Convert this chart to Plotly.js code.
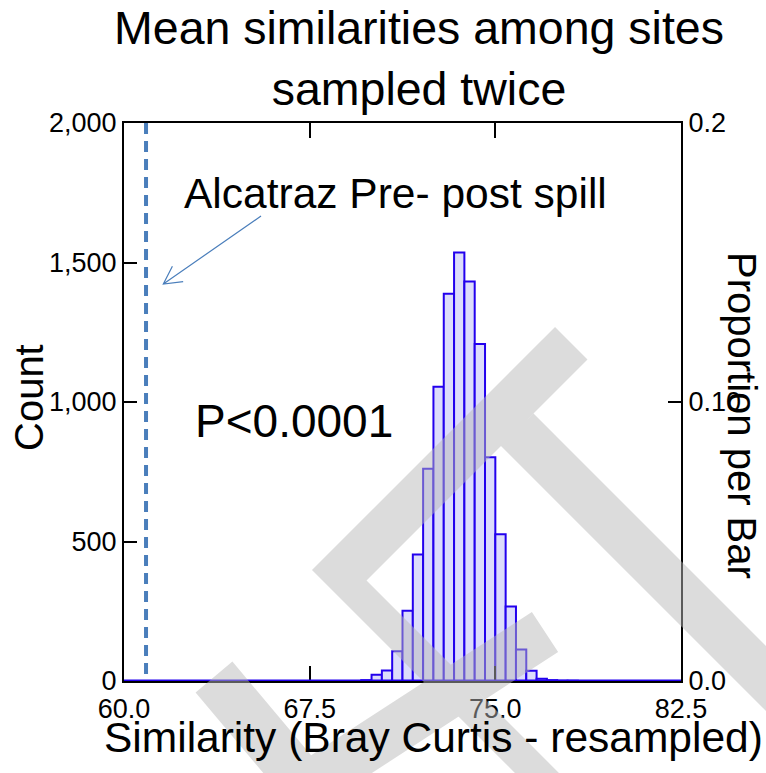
<!DOCTYPE html>
<html>
<head>
<meta charset="utf-8">
<script src="https://cdn.plot.ly/plotly-3.0.1.min.js"></script>
<style>html,body{margin:0;padding:0;background:#fff;}</style>
</head>
<body>
<div id="chart" style="width:766px;height:773px;"></div>
<script>
// ---- data ----
// lower edge of each histogram bin (Bray Curtis similarity, resampled)
const binLower = [69.583, 70.000, 70.417, 70.833, 71.250, 71.667, 72.083, 72.500, 72.917, 73.333,
                  73.750, 74.167, 74.583, 75.000, 75.417, 75.833, 76.250, 76.667, 77.083, 77.500, 77.917];
// count of resamples in each bin
const binCount = [3, 22, 38, 107, 252, 453, 761, 1055, 1388, 1536,
                  1432, 1208, 802, 526, 267, 113, 37, 8, 3, 1, 1];
const binWidth = 0.41667;
// observed similarity (Alcatraz pre- vs post-spill)
const observedSimilarity = [60.89];
// axis ticks
const xTickVals = [60, 67.5, 75, 82.5];
const xTickText = ['60.0', '67.5', '75.0', '82.5'];
const yTickVals = [0, 500, 1000, 1500, 2000];
const y2TickVals = [0, 0.1, 0.2];
const y2TickText = ['0.0', '0.10', '0.2'];
const totalResamples = 10000;

// ---- layout geometry ----
const W = 766, H = 773, ML = 124, MR = 85, MT = 123, MB = 92;
const plotW = W - ML - MR, plotH = H - MT - MB;
const FONT = 'Liberation Sans, Arial, Helvetica, sans-serif';
const pxX = px => (px - ML) / plotW;
const pxY = py => (H - MB - py) / plotH;
const polyPath = polys => polys.map(p => 'M' + p.map(q => pxX(q[0]).toFixed(4) + ',' + pxY(q[1]).toFixed(4)).join('L') + 'Z').join(' ');

// arrow from the label to the observed line (decoration, drawn in pixels)
const arrowTail = [261, 216], arrowTip = [163.3, 284];
function arrowPath() {
  const dx = arrowTail[0] - arrowTip[0], dy = arrowTail[1] - arrowTip[1];
  const len = Math.hypot(dx, dy), ux = dx / len, uy = dy / len;
  const ang = 28 * Math.PI / 180, bl = 20;
  const b1 = [arrowTip[0] + bl * (ux * Math.cos(ang) - uy * Math.sin(ang)), arrowTip[1] + bl * (ux * Math.sin(ang) + uy * Math.cos(ang))];
  const b2 = [arrowTip[0] + bl * (ux * Math.cos(-ang) - uy * Math.sin(-ang)), arrowTip[1] + bl * (ux * Math.sin(-ang) + uy * Math.cos(-ang))];
  const f = q => pxX(q[0]).toFixed(4) + ',' + pxY(q[1]).toFixed(4);
  return 'M' + f(arrowTail) + 'L' + f(arrowTip) + ' M' + f(b1) + 'L' + f(arrowTip) + 'L' + f(b2);
}

// faint grey watermark overlay (decoration), split into non-overlapping pieces
const watermark = [
  [[555, 327], [587.5, 359.5], [366.5, 580.5], [586, 800], [542, 800], [312, 570]],
  [[533.5, 413.5], [800, 680], [800, 745], [501, 446]],
  [[531.9, 611.9], [558.1, 652.1], [485.4, 699.3], [450.7, 664.7]],
  [[424.0, 682.0], [458.7, 716.6], [299.4, 820.1], [273.2, 779.9]],
  [[232.4, 661.6], [311.1, 755.3], [270.5, 781.6], [195.6, 692.4]]
];

const traces = [
  {
    type: 'bar',
    x: binLower,
    y: binCount,
    width: binWidth,
    offset: 0,
    marker: {color: '#dcdcfb', line: {color: '#2200ee', width: 2}},
    hoverinfo: 'skip'
  },
  {
    type: 'scatter',
    mode: 'lines',
    x: [observedSimilarity[0], observedSimilarity[0]],
    y: [yTickVals[yTickVals.length - 1], 0],
    line: {color: '#4a7ebb', width: 4, dash: '11px,7px'},
    hoverinfo: 'skip'
  },
  {
    type: 'scatter',
    mode: 'none',
    x: binLower,
    y: binCount.map(c => c / totalResamples),
    yaxis: 'y2',
    hoverinfo: 'skip'
  }
];

const layout = {
  width: W, height: H,
  margin: {l: ML, r: MR, t: MT, b: MB, pad: 0},
  paper_bgcolor: '#ffffff', plot_bgcolor: '#ffffff',
  showlegend: false,
  bargap: 0,
  font: {family: FONT, color: '#000000', size: 27},
  title: {
    text: 'Mean similarities among sites<br>sampled twice',
    font: {family: FONT, size: 46.5, color: '#000000'},
    xref: 'container', x: 0.547, xanchor: 'center',
    yref: 'container', y: 0.943, yanchor: 'top'
  },
  xaxis: {
    range: [60, 82.5], tickvals: xTickVals, ticktext: xTickText,
    ticks: 'inside', ticklen: 15, tickwidth: 2, tickcolor: '#000',
    showline: true, linecolor: '#000', linewidth: 2, mirror: 'ticks',
    showgrid: false, zeroline: false, ticklabelstandoff: 3,
    tickfont: {family: FONT, size: 27, color: '#000'}
  },
  yaxis: {
    range: [0, 2000], tickvals: yTickVals, tickformat: ',d',
    ticks: 'inside', ticklen: 13, tickwidth: 2, tickcolor: '#000',
    showline: true, linecolor: '#000', linewidth: 2,
    showgrid: false, zeroline: false,
    tickfont: {family: FONT, size: 27, color: '#000'}
  },
  yaxis2: {
    overlaying: 'y', side: 'right', range: [0, 0.2],
    tickvals: y2TickVals, ticktext: y2TickText,
    ticks: 'inside', ticklen: 13, tickwidth: 2, tickcolor: '#000',
    showline: true, linecolor: '#000', linewidth: 2,
    showgrid: false, zeroline: false,
    tickfont: {family: FONT, size: 27, color: '#000'}
  },
  annotations: [
    {text: 'Alcatraz Pre- post spill', xref: 'x', yref: 'y', x: 62.36, y: 1746,
     xanchor: 'left', yanchor: 'middle', showarrow: false,
     font: {family: FONT, size: 42.5, color: '#000'}},
    {text: 'P<0.0001', xref: 'x', yref: 'y', x: 62.80, y: 932,
     xanchor: 'left', yanchor: 'middle', showarrow: false,
     font: {family: FONT, size: 46, color: '#000'}},
    {text: 'Count', xref: 'paper', yref: 'paper', textangle: -90,
     x: pxX(29), y: pxY(398), xanchor: 'center', yanchor: 'middle', showarrow: false,
     font: {family: FONT, size: 40, color: '#000'}},
    {text: 'Similarity (Bray Curtis - resampled)', xref: 'paper', yref: 'paper',
     x: pxX(433.5), y: pxY(737), xanchor: 'center', yanchor: 'middle', showarrow: false,
     font: {family: FONT, size: 42.5, color: '#000'}},
    {text: 'Proportion per Bar', xref: 'paper', yref: 'paper', textangle: 90,
     x: pxX(742), y: pxY(415), xanchor: 'center', yanchor: 'middle', showarrow: false,
     font: {family: FONT, size: 40, color: '#000'}}
  ],
  shapes: [
    {type: 'line', xref: 'paper', yref: 'y', x0: 0, x1: 1, y0: 0, y1: 0,
     line: {color: '#2200ee', width: 3}, layer: 'above'},
    {type: 'path', xref: 'paper', yref: 'paper', path: arrowPath(),
     line: {color: '#4a7ebb', width: 1.2}, layer: 'above'},
    {type: 'path', xref: 'paper', yref: 'paper', path: polyPath(watermark),
     fillcolor: 'rgba(184,184,184,0.49)', fillrule: 'nonzero',
     line: {width: 0}, layer: 'above'}
  ]
};

Plotly.newPlot('chart', traces, layout, {staticPlot: true, displayModeBar: false});
</script>
</body>
</html>
